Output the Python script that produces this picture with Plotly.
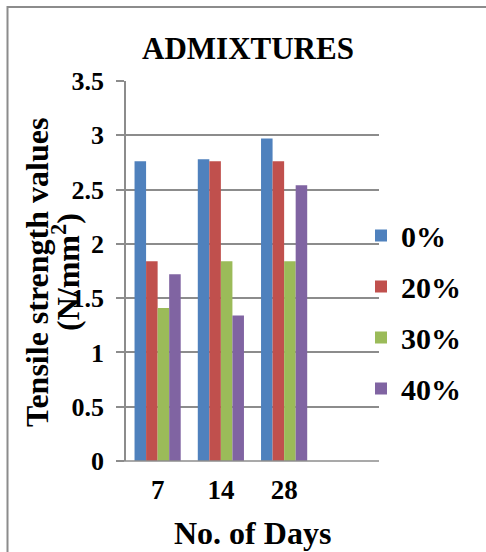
import plotly.graph_objects as go

days = ["7", "14", "28"]
series_names = ["0%", "20%", "30%", "40%"]
values_0 = [2.76, 2.78, 2.97]
values_20 = [1.84, 2.76, 2.76]
values_30 = [1.41, 1.84, 1.84]
values_40 = [1.72, 1.34, 2.54]
colors = ["#4F81BD", "#C0504D", "#9BBB59", "#8064A2"]
y_ticks = [0, 0.5, 1, 1.5, 2, 2.5, 3, 3.5]
y_ticklabels = ["0", "0.5", "1", "1.5", "2", "2.5", "3", "3.5"]

all_values = [values_0, values_20, values_30, values_40]
xpos = list(range(len(days)))

FONT = "Liberation Serif"
GRID = "#8c8c8c"

fig = go.Figure()
for i, (name, vals, col) in enumerate(zip(series_names, all_values, colors)):
    fig.add_trace(go.Bar(
        x=xpos, y=vals, name=name, legendgroup=name,
        marker=dict(color=col, line=dict(width=0)),
    ))

W, H = 486, 552
ml, mr, mt, mb = 126, 107, 81, 91
pw, ph = W - ml - mr, H - mt - mb

def px_x(x):
    return (x - ml) / pw

def px_y(y):
    return (H - mb - y) / ph

fig.update_layout(
    width=W, height=H,
    margin=dict(l=ml, r=mr, t=mt, b=mb),
    paper_bgcolor="white", plot_bgcolor="white",
    barmode="group", bargap=0.27, bargroupgap=0,
    font=dict(family=FONT, color="black", size=22, weight="bold"),
    title=dict(text="ADMIXTURES", x=px_x(248), xref="paper", xanchor="center",
               y=1 - 48 / H, yanchor="middle",
               font=dict(family=FONT, size=31, weight="bold", color="black")),
    xaxis=dict(range=[-0.5, 3.5], tickmode="array", tickvals=xpos, ticktext=days,
               showgrid=False, zeroline=False, showline=False, ticks="",
               tickfont=dict(family=FONT, size=27, weight="bold"),
               ticklabelstandoff=10,
               fixedrange=True),
    yaxis=dict(range=[0, 3.5], tickmode="array", tickvals=y_ticks, ticktext=y_ticklabels,
               showgrid=True, gridcolor=GRID, gridwidth=1.5,
               zeroline=False, showline=True, linecolor=GRID, linewidth=1.5,
               ticks="outside", ticklen=8, tickcolor=GRID, tickwidth=1.5,
               tickfont=dict(family=FONT, size=26, weight="bold"),
               ticklabelstandoff=7),
    legend=dict(x=px_x(361), xanchor="left", y=px_y(312), yanchor="middle",
                font=dict(family=FONT, size=30, weight="bold"),
                tracegroupgap=9, bgcolor="rgba(0,0,0,0)"),
    showlegend=True,
)

# x-axis title
fig.add_annotation(text="No. of Days", xref="paper", yref="paper",
                   x=px_x(252), y=px_y(533), xanchor="center", yanchor="middle",
                   showarrow=False, font=dict(family=FONT, size=32, weight="bold"))
# y-axis title (two lines)
fig.add_annotation(text="Tensile strength values", xref="paper", yref="paper",
                   x=px_x(37), y=px_y(273), xanchor="center", yanchor="middle",
                   textangle=-90, showarrow=False,
                   font=dict(family=FONT, size=32, weight="bold"))
fig.add_annotation(text="(N/mm<sup>2</sup>)", xref="paper", yref="paper",
                   x=px_x(66), y=px_y(272), xanchor="center", yanchor="middle",
                   textangle=-90, showarrow=False,
                   font=dict(family=FONT, size=32, weight="bold"))

# outer chart border
fig.add_shape(type="rect", xref="paper", yref="paper",
              x0=px_x(7.5), x1=px_x(W + 20), y0=px_y(H + 20), y1=px_y(7),
              line=dict(color="#8c8c8c", width=2), fillcolor="rgba(0,0,0,0)", layer="below")

# x axis baseline extending over tick area
fig.add_shape(type="line", xref="paper", yref="paper",
              x0=px_x(118), x1=1, y0=0, y1=0,
              line=dict(color=GRID, width=1.5))

fig.write_html("out.html")
